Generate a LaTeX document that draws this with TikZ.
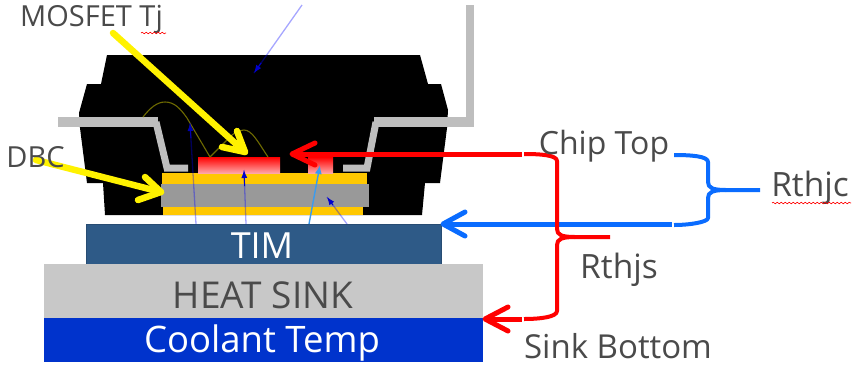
\documentclass[tikz,border=0pt]{standalone}
\usepackage{fontspec}
\setmainfont{Open Sans}
\usetikzlibrary{arrows.meta,decorations.pathmorphing,calc}
\definecolor{txt}{HTML}{4A4A4A}
\definecolor{gold}{HTML}{FFC800}
\definecolor{subgray}{HTML}{999999}
\definecolor{leadgray}{HTML}{BEBEBE}
\definecolor{timblue}{HTML}{2E5A87}
\definecolor{sinkgray}{HTML}{C8C8C8}
\definecolor{coolblue}{HTML}{0033CC}
\definecolor{brblue}{HTML}{0A6CFF}
\definecolor{wire}{HTML}{6E6A00}
\definecolor{skyline}{HTML}{3A9BEF}
\tikzset{
  lbl/.style={inner sep=0pt,text=txt,font=\fontsize{#1}{#1}\selectfont},
  wlbl/.style={inner sep=0pt,text=white,font=\fontsize{#1}{#1}\selectfont},
  lead/.style={draw=leadgray,line width=#1,line join=miter},
  bond/.style={draw=wire,line width=1.1pt},
  thin/.style={draw=blue,draw opacity=0.35,line width=1.3pt},
  tipb/.style={draw=#1,line width=1pt,-{Latex[length=8pt,width=6pt]}},
  bigarrow/.style={draw=#1,line width=5pt,line cap=round,line join=round},
  yelarrow/.style={draw=yellow,line width=6.5pt,line cap=round,line join=round},
  brace/.style={draw=#1,line width=4pt,line cap=round,line join=round},
  squig/.style={draw=red,line width=0.6pt,decorate,decoration={snake,amplitude=0.8pt,segment length=4pt}}
}
\begin{document}
\begin{tikzpicture}[x=1pt,y=-1pt]
\useasboundingbox (0,0) rectangle (853,365);
% package body
\fill[black] (107,55) -- (420,55) -- (428,84) -- (441,84) -- (448,110) -- (447,128) -- (440,183) -- (425,183) -- (422,215) -- (105,215) -- (103,183) -- (87,183) -- (80,128) -- (79,113) -- (87,84) -- (101,84) -- cycle;
% leads
\draw[lead=10pt] (58,122) -- (158,122);
\draw[lead=7pt] (156,122) -- (167,168) -- (188,168);
\draw[lead=7pt] (343,168) -- (367,168) -- (376,122);
\draw[lead=10pt] (374,122) -- (470,122);
\draw[lead=8pt] (470,127) -- (470,5);
% substrate
\fill[gold] (162,173) rectangle (367,184);
\fill[subgray] (161,184) rectangle (369,207);
\fill[gold] (163,207) rectangle (363,215);
% chips
\shade[top color=red,bottom color=red!35!white] (198,157) rectangle (280,173);
\shade[top color=red,bottom color=red!35!white] (308,157) rectangle (333,173);
% bond wires
\draw[bond] (143,117) .. controls (150,108) and (157,102) .. (165,102) .. controls (174,102) and (180,108) .. (187,118) -- (210,157) -- (227,140) .. controls (232,134) and (238,130) .. (244,130) .. controls (252,130) and (258,142) .. (268,157);
% stack
\node[fill=timblue,draw=timblue!85!black,line width=0.6pt,minimum width=355pt,minimum height=40pt,inner sep=0pt,anchor=north west] (tim) at (86,224) {};
\node[fill=sinkgray,minimum width=439pt,minimum height=54pt,inner sep=0pt,anchor=north west] (sink) at (44,264) {};
\node[fill=coolblue,minimum width=439pt,minimum height=44pt,inner sep=0pt,anchor=north west] (cool) at (44,318) {};
\node[wlbl=36] (timt) at (262,246) {TIM};
\node[lbl=37] (sinkt) at (263,295) {HEAT SINK};
\node[wlbl=36.5] (coolt) at (262,343) {Coolant Temp};
% thin arrows
\coordinate (a1s) at (196,224); \coordinate (a1e) at (190,123);
\coordinate (a2s) at (246,224); \coordinate (a2e) at (244,170);
\coordinate (a3s) at (309,224); \coordinate (a3e) at (320,165);
\coordinate (a4s) at (347,224); \coordinate (a4e) at (327,197);
\coordinate (a5s) at (302,5);   \coordinate (a5e) at (254,73);
\draw[thin] (a1s) -- (a1e);
\draw[tipb=blue!70!black] ($(a1s)!0.85!(a1e)$) -- (a1e);
\draw[thin] (a2s) -- (a2e);
\draw[tipb=blue!80!black] ($(a2s)!0.7!(a2e)$) -- (a2e);
\draw[draw=skyline,line width=1.4pt,-{Latex[length=9pt,width=7pt]}] (a3s) -- (a3e);
\draw[thin] (a4s) -- (a4e);
\draw[tipb=blue!80!black] ($(a4s)!0.7!(a4e)$) -- (a4e);
\draw[thin] (a5s) -- (a5e);
\draw[tipb=blue!80!black] ($(a5s)!0.85!(a5e)$) -- (a5e);
% yellow arrows
\coordinate (y1s) at (113,33); \coordinate (y1e) at (245,152);
\coordinate (y2s) at (36,160); \coordinate (y2e) at (161,192);
\draw[yelarrow] (y1s) -- (y1e);
\draw[yelarrow] (237,131) -- (y1e) -- (222,147);
\draw[yelarrow] (y2s) -- (y2e);
\draw[yelarrow] (145,177) -- (y2e) -- (138,200);
% red and blue arrows
\coordinate (rt) at (292,154); \coordinate (rte) at (522,154);
\coordinate (bt) at (443,224); \coordinate (bte) at (672,224);
\coordinate (st) at (485,319); \coordinate (ste) at (522,319);
\draw[bigarrow=red,line cap=butt] (rt) -- (rte);
\draw[bigarrow=red] (315,143) -- (rt) -- (315,165);
\draw[bigarrow=brblue,line cap=butt] (bt) -- (bte);
\draw[bigarrow=brblue] (465,212) -- (bt) -- (465,236);
\draw[bigarrow=red,line cap=butt] (st) -- (ste);
\draw[bigarrow=red] (508,307) -- (st) -- (508,331);
% braces
\draw[brace=red,line cap=butt] (524,154) .. controls (540,154) and (557,155) .. (557,161) -- (557,229) .. controls (557,235) and (562,237) .. (575,237) -- (610,237);
\draw[brace=red,line cap=butt] (575,237) .. controls (562,237) and (557,239) .. (557,245) -- (557,311) .. controls (557,317) and (540,319) .. (524,319);
\draw[brace=brblue,line cap=butt] (674,155) .. controls (690,155) and (708,156) .. (708,162) -- (708,182) .. controls (708,188) and (713,190) .. (726,190) -- (760,190);
\draw[brace=brblue,line cap=butt] (726,190) .. controls (713,190) and (708,192) .. (708,198) -- (708,218) .. controls (708,222) and (690,225) .. (674,225);
% labels
\node[lbl=29] (mos) at (91.5,19.5) {MOSFET Tj};
\node[lbl=29] (dbc) at (35.5,157) {DBC};
\node[lbl=32] (chip) at (604,146) {Chip Top};
\node[lbl=33.5] (rthjc) at (810,188) {Rthjc};
\node[lbl=33.5] (rthjs) at (619,270) {Rthjs};
\node[lbl=33] (sinkb) at (618,346) {Sink Bottom};
\draw[squig] (141,33) -- (166,33);
\draw[squig] (772,203) -- (851,203);
\end{tikzpicture}
\end{document}
